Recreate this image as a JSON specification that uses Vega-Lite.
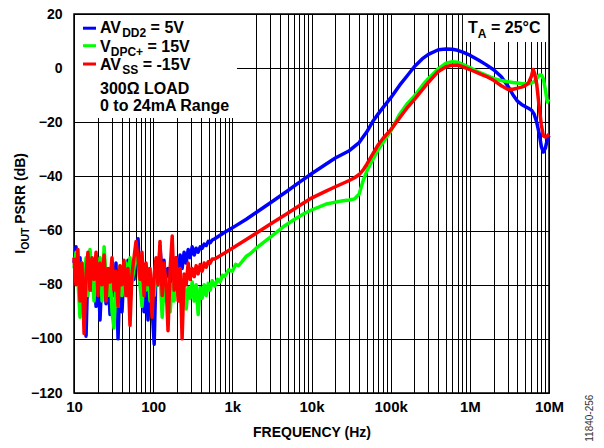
{
  "$schema": "https://vega.github.io/schema/vega-lite/v6.json",
  "width": 475,
  "height": 379,
  "autosize": {"type": "none"},
  "padding": {"left": 74, "top": 14, "right": 55, "bottom": 55},
  "background": "white",
  "config": {
    "view": {"stroke": "black", "strokeWidth": 1.5},
    "axis": {
      "labelFont": "Liberation Sans", "labelFontWeight": "bold", "labelColor": "black",
      "titleFont": "Liberation Sans", "titleFontWeight": "bold", "titleColor": "black",
      "gridColor": "black", "gridOpacity": 1, "gridWidth": 1,
      "ticks": false, "domain": false, "labelOverlap": false, "labelFlush": false
    }
  },
  "datasets": {
    "psrr": [
      {"series":"AVDD2","f":10,"db":-72},{"series":"AVDD2","f":10.6,"db":-66},{"series":"AVDD2","f":11.2,"db":-80},{"series":"AVDD2","f":11.9,"db":-70},{"series":"AVDD2","f":12.6,"db":-85},{"series":"AVDD2","f":13.4,"db":-74},{"series":"AVDD2","f":14.2,"db":-99},{"series":"AVDD2","f":15,"db":-72},{"series":"AVDD2","f":15.9,"db":-68},{"series":"AVDD2","f":16.9,"db":-82},
      {"series":"AVDD2","f":17.9,"db":-74},{"series":"AVDD2","f":19,"db":-88},{"series":"AVDD2","f":20.1,"db":-73},{"series":"AVDD2","f":21.3,"db":-93},{"series":"AVDD2","f":22.6,"db":-76},{"series":"AVDD2","f":24,"db":-70},{"series":"AVDD2","f":25.4,"db":-87},{"series":"AVDD2","f":26.9,"db":-75},{"series":"AVDD2","f":28.5,"db":-91},{"series":"AVDD2","f":30.2,"db":-78},
      {"series":"AVDD2","f":32,"db":-84},{"series":"AVDD2","f":33.9,"db":-72},{"series":"AVDD2","f":36,"db":-100},{"series":"AVDD2","f":38.1,"db":-76},{"series":"AVDD2","f":40.4,"db":-90},{"series":"AVDD2","f":42.8,"db":-74},{"series":"AVDD2","f":45.4,"db":-80},{"series":"AVDD2","f":48.1,"db":-71},{"series":"AVDD2","f":51,"db":-86},{"series":"AVDD2","f":54,"db":-73},
      {"series":"AVDD2","f":57.3,"db":-78},{"series":"AVDD2","f":60.7,"db":-68},{"series":"AVDD2","f":64.4,"db":-63},{"series":"AVDD2","f":68.2,"db":-80},{"series":"AVDD2","f":72.3,"db":-74},{"series":"AVDD2","f":76.7,"db":-90},{"series":"AVDD2","f":81.3,"db":-76},{"series":"AVDD2","f":86.1,"db":-93},{"series":"AVDD2","f":91.3,"db":-79},{"series":"AVDD2","f":96.8,"db":-88},
      {"series":"AVDD2","f":103,"db":-102},{"series":"AVDD2","f":109,"db":-72},{"series":"AVDD2","f":115,"db":-80},{"series":"AVDD2","f":122,"db":-66},{"series":"AVDD2","f":130,"db":-77},{"series":"AVDD2","f":137,"db":-71},{"series":"AVDD2","f":146,"db":-84},{"series":"AVDD2","f":154,"db":-74},{"series":"AVDD2","f":164,"db":-79},{"series":"AVDD2","f":174,"db":-71},
      {"series":"AVDD2","f":184,"db":-78},{"series":"AVDD2","f":195,"db":-70},{"series":"AVDD2","f":207,"db":-76},{"series":"AVDD2","f":219,"db":-69},{"series":"AVDD2","f":232,"db":-74},{"series":"AVDD2","f":246,"db":-68},{"series":"AVDD2","f":261,"db":-72},{"series":"AVDD2","f":277,"db":-67},{"series":"AVDD2","f":293,"db":-70},{"series":"AVDD2","f":311,"db":-66},
      {"series":"AVDD2","f":330,"db":-69},{"series":"AVDD2","f":349,"db":-66.5},{"series":"AVDD2","f":370,"db":-68},{"series":"AVDD2","f":393,"db":-66},{"series":"AVDD2","f":416,"db":-66.5},{"series":"AVDD2","f":441,"db":-65},{"series":"AVDD2","f":468,"db":-65.5},{"series":"AVDD2","f":496,"db":-64},{"series":"AVDD2","f":526,"db":-64.5},{"series":"AVDD2","f":557,"db":-63.5},
      {"series":"AVDD2","f":600,"db":-63},{"series":"AVDD2","f":700,"db":-61.7},{"series":"AVDD2","f":800,"db":-60.6},{"series":"AVDD2","f":1000,"db":-59},{"series":"AVDD2","f":1500,"db":-55.8},{"series":"AVDD2","f":2000,"db":-53.3},{"series":"AVDD2","f":3000,"db":-49.8},{"series":"AVDD2","f":5000,"db":-45.3},{"series":"AVDD2","f":7000,"db":-42.2},{"series":"AVDD2","f":10000,"db":-39},
      {"series":"AVDD2","f":15000,"db":-35.6},{"series":"AVDD2","f":20000,"db":-33.2},{"series":"AVDD2","f":30000,"db":-30.5},{"series":"AVDD2","f":40000,"db":-27.5},{"series":"AVDD2","f":50000,"db":-23.5},{"series":"AVDD2","f":60000,"db":-19.5},{"series":"AVDD2","f":70000,"db":-16.8},{"series":"AVDD2","f":80000,"db":-14.6},{"series":"AVDD2","f":100000,"db":-11},{"series":"AVDD2","f":130000,"db":-6.3},
      {"series":"AVDD2","f":160000,"db":-3},{"series":"AVDD2","f":200000,"db":0.6},{"series":"AVDD2","f":250000,"db":3.4},{"series":"AVDD2","f":300000,"db":5.1},{"series":"AVDD2","f":400000,"db":6.8},{"series":"AVDD2","f":500000,"db":7.1},{"series":"AVDD2","f":600000,"db":7},{"series":"AVDD2","f":700000,"db":6.6},{"series":"AVDD2","f":800000,"db":6},{"series":"AVDD2","f":1000000,"db":4.8},
      {"series":"AVDD2","f":1300000,"db":2.9},{"series":"AVDD2","f":1600000,"db":1.3},{"series":"AVDD2","f":2000000,"db":-0.6},{"series":"AVDD2","f":2500000,"db":-3.2},{"series":"AVDD2","f":3000000,"db":-6.5},{"series":"AVDD2","f":3500000,"db":-9.8},{"series":"AVDD2","f":4000000,"db":-12.2},{"series":"AVDD2","f":4500000,"db":-13.4},{"series":"AVDD2","f":5000000,"db":-14.2},{"series":"AVDD2","f":5500000,"db":-14.8},
      {"series":"AVDD2","f":6000000,"db":-15.5},{"series":"AVDD2","f":6500000,"db":-17},{"series":"AVDD2","f":7000000,"db":-20},{"series":"AVDD2","f":7500000,"db":-24},{"series":"AVDD2","f":8000000,"db":-29},{"series":"AVDD2","f":8500000,"db":-31},{"series":"AVDD2","f":9000000,"db":-29.5},{"series":"AVDD2","f":9500000,"db":-26.5},{"series":"AVDD2","f":10000000,"db":-25},

      {"series":"VDPC","f":10,"db":-74},{"series":"VDPC","f":10.6,"db":-68},{"series":"VDPC","f":11.2,"db":-78},{"series":"VDPC","f":11.9,"db":-92},{"series":"VDPC","f":12.6,"db":-72},{"series":"VDPC","f":13.4,"db":-80},{"series":"VDPC","f":14.2,"db":-70},{"series":"VDPC","f":15,"db":-84},{"series":"VDPC","f":15.9,"db":-67},{"series":"VDPC","f":16.9,"db":-76},
      {"series":"VDPC","f":17.9,"db":-86},{"series":"VDPC","f":19,"db":-72},{"series":"VDPC","f":20.1,"db":-80},{"series":"VDPC","f":21.3,"db":-70},{"series":"VDPC","f":22.6,"db":-86},{"series":"VDPC","f":24,"db":-66},{"series":"VDPC","f":25.4,"db":-78},{"series":"VDPC","f":26.9,"db":-84},{"series":"VDPC","f":28.5,"db":-74},{"series":"VDPC","f":30.2,"db":-90},
      {"series":"VDPC","f":32,"db":-96},{"series":"VDPC","f":33.9,"db":-80},{"series":"VDPC","f":36,"db":-88},{"series":"VDPC","f":38.1,"db":-73},{"series":"VDPC","f":40.4,"db":-84},{"series":"VDPC","f":42.8,"db":-76},{"series":"VDPC","f":45.4,"db":-72},{"series":"VDPC","f":48.1,"db":-82},{"series":"VDPC","f":51,"db":-70},{"series":"VDPC","f":54,"db":-79},
      {"series":"VDPC","f":57.3,"db":-74},{"series":"VDPC","f":60.7,"db":-66},{"series":"VDPC","f":64.4,"db":-72},{"series":"VDPC","f":68.2,"db":-80},{"series":"VDPC","f":72.3,"db":-88},{"series":"VDPC","f":76.7,"db":-76},{"series":"VDPC","f":81.3,"db":-82},{"series":"VDPC","f":86.1,"db":-74},{"series":"VDPC","f":91.3,"db":-86},{"series":"VDPC","f":96.8,"db":-78},
      {"series":"VDPC","f":103,"db":-84},{"series":"VDPC","f":109,"db":-74},{"series":"VDPC","f":115,"db":-80},{"series":"VDPC","f":122,"db":-76},{"series":"VDPC","f":130,"db":-92},{"series":"VDPC","f":137,"db":-80},{"series":"VDPC","f":146,"db":-86},{"series":"VDPC","f":154,"db":-78},{"series":"VDPC","f":164,"db":-90},{"series":"VDPC","f":174,"db":-80},
      {"series":"VDPC","f":184,"db":-86},{"series":"VDPC","f":195,"db":-78},{"series":"VDPC","f":207,"db":-84},{"series":"VDPC","f":219,"db":-79},{"series":"VDPC","f":232,"db":-88},{"series":"VDPC","f":246,"db":-80},{"series":"VDPC","f":261,"db":-89},{"series":"VDPC","f":277,"db":-81},{"series":"VDPC","f":293,"db":-85},{"series":"VDPC","f":311,"db":-79},
      {"series":"VDPC","f":330,"db":-86},{"series":"VDPC","f":349,"db":-80},{"series":"VDPC","f":370,"db":-91},{"series":"VDPC","f":393,"db":-81},{"series":"VDPC","f":416,"db":-85},{"series":"VDPC","f":441,"db":-80},{"series":"VDPC","f":468,"db":-84},{"series":"VDPC","f":496,"db":-79.5},{"series":"VDPC","f":526,"db":-82},{"series":"VDPC","f":557,"db":-78.5},
      {"series":"VDPC","f":600,"db":-80.5},{"series":"VDPC","f":650,"db":-78},{"series":"VDPC","f":700,"db":-79},{"series":"VDPC","f":750,"db":-76.5},{"series":"VDPC","f":800,"db":-77},{"series":"VDPC","f":900,"db":-74.5},{"series":"VDPC","f":1000,"db":-75},{"series":"VDPC","f":1100,"db":-72.5},{"series":"VDPC","f":1200,"db":-73},{"series":"VDPC","f":1500,"db":-69.5},
      {"series":"VDPC","f":1700,"db":-68.5},{"series":"VDPC","f":2000,"db":-66.5},{"series":"VDPC","f":3000,"db":-62.5},{"series":"VDPC","f":4400,"db":-58.6},{"series":"VDPC","f":6000,"db":-56},{"series":"VDPC","f":8000,"db":-53.8},{"series":"VDPC","f":10000,"db":-52.4},{"series":"VDPC","f":15000,"db":-50.3},{"series":"VDPC","f":20000,"db":-49.5},{"series":"VDPC","f":25000,"db":-49},
      {"series":"VDPC","f":30000,"db":-48.7},{"series":"VDPC","f":35000,"db":-48.3},{"series":"VDPC","f":40000,"db":-46.5},{"series":"VDPC","f":45000,"db":-41.5},{"series":"VDPC","f":50000,"db":-38},{"series":"VDPC","f":60000,"db":-33.5},{"series":"VDPC","f":70000,"db":-30},{"series":"VDPC","f":80000,"db":-27.5},{"series":"VDPC","f":100000,"db":-23.3},{"series":"VDPC","f":130000,"db":-17},
      {"series":"VDPC","f":160000,"db":-13.3},{"series":"VDPC","f":200000,"db":-10.3},{"series":"VDPC","f":250000,"db":-6.5},{"series":"VDPC","f":300000,"db":-3.8},{"series":"VDPC","f":400000,"db":-0.2},{"series":"VDPC","f":500000,"db":1.8},{"series":"VDPC","f":600000,"db":2.4},{"series":"VDPC","f":700000,"db":2.2},{"series":"VDPC","f":800000,"db":1.5},{"series":"VDPC","f":1000000,"db":0.2},
      {"series":"VDPC","f":1300000,"db":-1.5},{"series":"VDPC","f":1600000,"db":-2.6},{"series":"VDPC","f":2000000,"db":-3.8},{"series":"VDPC","f":2500000,"db":-4.6},{"series":"VDPC","f":3000000,"db":-5},{"series":"VDPC","f":3500000,"db":-5.3},{"series":"VDPC","f":4000000,"db":-5.5},{"series":"VDPC","f":4500000,"db":-5.7},{"series":"VDPC","f":5000000,"db":-5.8},{"series":"VDPC","f":5500000,"db":-5.8},
      {"series":"VDPC","f":6000000,"db":-5.5},{"series":"VDPC","f":6500000,"db":-5},{"series":"VDPC","f":7000000,"db":-3.8},{"series":"VDPC","f":7500000,"db":-2.6},{"series":"VDPC","f":8000000,"db":-2.5},{"series":"VDPC","f":8500000,"db":-4},{"series":"VDPC","f":9000000,"db":-8},{"series":"VDPC","f":9500000,"db":-12.5},{"series":"VDPC","f":10000000,"db":-11.5},

      {"series":"AVSS","f":10,"db":-70},{"series":"AVSS","f":10.6,"db":-80},{"series":"AVSS","f":11.2,"db":-67},{"series":"AVSS","f":11.9,"db":-86},{"series":"AVSS","f":12.6,"db":-72},{"series":"AVSS","f":13.4,"db":-98},{"series":"AVSS","f":14.2,"db":-76},{"series":"AVSS","f":15,"db":-68},{"series":"AVSS","f":15.9,"db":-82},{"series":"AVSS","f":16.9,"db":-70},
      {"series":"AVSS","f":17.9,"db":-78},{"series":"AVSS","f":19,"db":-68},{"series":"AVSS","f":20.1,"db":-84},{"series":"AVSS","f":21.3,"db":-72},{"series":"AVSS","f":22.6,"db":-80},{"series":"AVSS","f":24,"db":-69},{"series":"AVSS","f":25.4,"db":-86},{"series":"AVSS","f":26.9,"db":-74},{"series":"AVSS","f":28.5,"db":-79},{"series":"AVSS","f":30.2,"db":-70},
      {"series":"AVSS","f":32,"db":-82},{"series":"AVSS","f":33.9,"db":-75},{"series":"AVSS","f":36,"db":-88},{"series":"AVSS","f":38.1,"db":-73},{"series":"AVSS","f":40.4,"db":-80},{"series":"AVSS","f":42.8,"db":-71},{"series":"AVSS","f":45.4,"db":-84},{"series":"AVSS","f":48.1,"db":-74},{"series":"AVSS","f":51,"db":-95},{"series":"AVSS","f":54,"db":-76},
      {"series":"AVSS","f":57.3,"db":-70},{"series":"AVSS","f":60.7,"db":-64},{"series":"AVSS","f":64.4,"db":-70},{"series":"AVSS","f":68.2,"db":-78},{"series":"AVSS","f":72.3,"db":-68},{"series":"AVSS","f":76.7,"db":-84},{"series":"AVSS","f":81.3,"db":-72},{"series":"AVSS","f":86.1,"db":-80},{"series":"AVSS","f":91.3,"db":-74},{"series":"AVSS","f":96.8,"db":-92},
      {"series":"AVSS","f":103,"db":-76},{"series":"AVSS","f":109,"db":-70},{"series":"AVSS","f":115,"db":-80},{"series":"AVSS","f":122,"db":-64},{"series":"AVSS","f":130,"db":-84},{"series":"AVSS","f":137,"db":-72},{"series":"AVSS","f":146,"db":-80},{"series":"AVSS","f":154,"db":-97},{"series":"AVSS","f":164,"db":-74},{"series":"AVSS","f":174,"db":-62},
      {"series":"AVSS","f":184,"db":-82},{"series":"AVSS","f":195,"db":-70},{"series":"AVSS","f":207,"db":-86},{"series":"AVSS","f":219,"db":-74},{"series":"AVSS","f":232,"db":-100},{"series":"AVSS","f":246,"db":-76},{"series":"AVSS","f":261,"db":-80},{"series":"AVSS","f":277,"db":-72},{"series":"AVSS","f":293,"db":-78},{"series":"AVSS","f":311,"db":-74},
      {"series":"AVSS","f":330,"db":-77},{"series":"AVSS","f":349,"db":-73},{"series":"AVSS","f":370,"db":-76},{"series":"AVSS","f":393,"db":-72.5},{"series":"AVSS","f":416,"db":-75},{"series":"AVSS","f":441,"db":-72},{"series":"AVSS","f":468,"db":-73.5},{"series":"AVSS","f":496,"db":-71.5},{"series":"AVSS","f":526,"db":-72},{"series":"AVSS","f":557,"db":-70.5},
      {"series":"AVSS","f":600,"db":-70.5},{"series":"AVSS","f":700,"db":-69.3},{"series":"AVSS","f":800,"db":-68.3},{"series":"AVSS","f":1000,"db":-66.5},{"series":"AVSS","f":1500,"db":-63.3},{"series":"AVSS","f":2000,"db":-61},{"series":"AVSS","f":3000,"db":-57.7},{"series":"AVSS","f":5000,"db":-53.6},{"series":"AVSS","f":7000,"db":-50.8},{"series":"AVSS","f":10000,"db":-48},
      {"series":"AVSS","f":15000,"db":-45.5},{"series":"AVSS","f":20000,"db":-43.8},{"series":"AVSS","f":30000,"db":-41.5},{"series":"AVSS","f":35000,"db":-40.5},{"series":"AVSS","f":40000,"db":-39.3},{"series":"AVSS","f":45000,"db":-37.6},{"series":"AVSS","f":50000,"db":-35.5},{"series":"AVSS","f":60000,"db":-31.5},{"series":"AVSS","f":70000,"db":-28.2},{"series":"AVSS","f":80000,"db":-26},
      {"series":"AVSS","f":100000,"db":-22.8},{"series":"AVSS","f":130000,"db":-18.3},{"series":"AVSS","f":160000,"db":-14.8},{"series":"AVSS","f":200000,"db":-11.5},{"series":"AVSS","f":250000,"db":-8},{"series":"AVSS","f":300000,"db":-5.2},{"series":"AVSS","f":400000,"db":-1.2},{"series":"AVSS","f":500000,"db":0.5},{"series":"AVSS","f":600000,"db":1.1},{"series":"AVSS","f":700000,"db":1.1},
      {"series":"AVSS","f":800000,"db":0.6},{"series":"AVSS","f":1000000,"db":-0.5},{"series":"AVSS","f":1300000,"db":-1.9},{"series":"AVSS","f":1600000,"db":-3},{"series":"AVSS","f":2000000,"db":-4.5},{"series":"AVSS","f":2500000,"db":-6.5},{"series":"AVSS","f":3000000,"db":-7.8},{"series":"AVSS","f":3500000,"db":-7.8},{"series":"AVSS","f":4000000,"db":-7.4},{"series":"AVSS","f":4500000,"db":-7},
      {"series":"AVSS","f":5000000,"db":-6.5},{"series":"AVSS","f":5500000,"db":-5.5},{"series":"AVSS","f":6000000,"db":-3},{"series":"AVSS","f":6300000,"db":-0.5},{"series":"AVSS","f":6600000,"db":-2},{"series":"AVSS","f":7000000,"db":-6},{"series":"AVSS","f":7500000,"db":-14},{"series":"AVSS","f":8000000,"db":-21},{"series":"AVSS","f":8500000,"db":-25},{"series":"AVSS","f":9000000,"db":-25.5},
      {"series":"AVSS","f":9500000,"db":-25},{"series":"AVSS","f":10000000,"db":-24.5}
    ],
    "boxes": [
      {"f":10.3,"f2":1146,"db":19.63,"db2":-18.4},
      {"f":818000,"f2":9700000,"db":19.63,"db2":9.65}
    ],
    "swatches": [
      {"series":"AVDD2","f":12.99,"f2":18.97,"db":14.75},
      {"series":"VDPC","f":12.99,"f2":18.97,"db":8.29},
      {"series":"AVSS","f":12.99,"f2":18.97,"db":1.53}
    ],
    "mainText": [
      {"f":21.3,"db":12.87,"label":"AV"},
      {"f":92.8,"db":12.87,"label":"= 5V"},
      {"f":21.3,"db":6.07,"label":"V"},
      {"f":84.8,"db":6.07,"label":"= 15V"},
      {"f":21.3,"db":-0.76,"label":"AV"},
      {"f":73.8,"db":-0.76,"label":"= -15V"},
      {"f":21.3,"db":-9.37,"label":"300Ω LOAD"},
      {"f":21.3,"db":-15.76,"label":"0 to 24mA Range"},
      {"f":947600,"db":12.8,"label":"T"},
      {"f":1849000,"db":12.8,"label":"= 25°C"}
    ],
    "subText": [
      {"f":40.6,"db":11.32,"label":"DD2"},
      {"f":29.1,"db":4.52,"label":"DPC+"},
      {"f":40.6,"db":-2.31,"label":"SS"},
      {"f":1260000,"db":11.25,"label":"A"}
    ],
    "yTitle": [
      {"f":2.40,"db":-68.6,"label":"I"},
      {"f":2.40,"db":-57.5,"label":"PSRR (dB)"}
    ],
    "yTitleSub": [
      {"f":2.74,"db":-67.1,"label":"OUT"}
    ],
    "code": [
      {"f":35940000,"db":-138.0,"label":"11840-256"}
    ]
  },
  "encoding": {
    "x": {
      "field": "f", "type": "quantitative",
      "scale": {"type": "log", "domain": [10, 10000000], "nice": false},
      "axis": {
        "title": "FREQUENCY (Hz)", "titleFontSize": 14, "titlePadding": 11,
        "labelFontSize": 15, "labelPadding": 6,
        "values": [10,20,30,40,50,60,70,80,90,100,200,300,400,500,600,700,800,900,1000,2000,3000,4000,5000,6000,7000,8000,9000,10000,20000,30000,40000,50000,60000,70000,80000,90000,100000,200000,300000,400000,500000,600000,700000,800000,900000,1000000,2000000,3000000,4000000,5000000,6000000,7000000,8000000,9000000,10000000],
        "labelExpr": "datum.value==10?'10':datum.value==100?'100':datum.value==1000?'1k':datum.value==10000?'10k':datum.value==100000?'100k':datum.value==1000000?'1M':datum.value==10000000?'10M':''"
      }
    },
    "y": {
      "field": "db", "type": "quantitative",
      "scale": {"domain": [-120, 20], "nice": false, "zero": false},
      "axis": {"title": null, "labelFontSize": 14, "labelPadding": 12, "values": [-120,-100,-80,-60,-40,-20,0,20]}
    }
  },
  "layer": [
    {
      "data": {"name": "boxes"},
      "mark": {"type": "rect", "fill": "white", "stroke": null},
      "encoding": {"x2": {"field": "f2"}, "y2": {"field": "db2"}}
    },
    {
      "data": {"name": "psrr"},
      "transform": [{"filter": "datum.series=='AVDD2'"}],
      "mark": {"type": "line", "strokeWidth": 3.5, "color": "#0000ff", "strokeJoin": "round"},
      "encoding": {}
    },
    {
      "data": {"name": "psrr"},
      "transform": [{"filter": "datum.series=='VDPC'"}],
      "mark": {"type": "line", "strokeWidth": 3.5, "color": "#00ff00", "strokeJoin": "round"},
      "encoding": {}
    },
    {
      "data": {"name": "psrr"},
      "transform": [{"filter": "datum.series=='AVSS'"}],
      "mark": {"type": "line", "strokeWidth": 3.5, "color": "#ff0000", "strokeJoin": "round"},
      "encoding": {}
    },
    {
      "data": {"name": "swatches"},
      "mark": {"type": "rule", "strokeWidth": 3},
      "encoding": {
        "x2": {"field": "f2"},
        "color": {"field": "series", "type": "nominal", "scale": {"domain": ["AVDD2","VDPC","AVSS"], "range": ["#0000ff","#00ff00","#ff0000"]}, "legend": null}
      }
    },
    {
      "data": {"name": "mainText"},
      "mark": {"type": "text", "font": "Liberation Sans", "fontWeight": "bold", "fontSize": 16, "align": "left", "baseline": "alphabetic", "color": "black"},
      "encoding": {"text": {"field": "label"}}
    },
    {
      "data": {"name": "subText"},
      "mark": {"type": "text", "font": "Liberation Sans", "fontWeight": "bold", "fontSize": 12, "align": "left", "baseline": "alphabetic", "color": "black"},
      "encoding": {"text": {"field": "label"}}
    },
    {
      "data": {"name": "yTitle"},
      "mark": {"type": "text", "font": "Liberation Sans", "fontWeight": "bold", "fontSize": 14, "align": "left", "baseline": "alphabetic", "angle": 270, "color": "black"},
      "encoding": {"text": {"field": "label"}}
    },
    {
      "data": {"name": "yTitleSub"},
      "mark": {"type": "text", "font": "Liberation Sans", "fontWeight": "bold", "fontSize": 10.5, "align": "left", "baseline": "alphabetic", "angle": 270, "color": "black"},
      "encoding": {"text": {"field": "label"}}
    },
    {
      "data": {"name": "code"},
      "mark": {"type": "text", "font": "Liberation Sans", "fontSize": 10, "align": "left", "baseline": "alphabetic", "angle": 270, "color": "#333333"},
      "encoding": {"text": {"field": "label"}}
    }
  ]
}
